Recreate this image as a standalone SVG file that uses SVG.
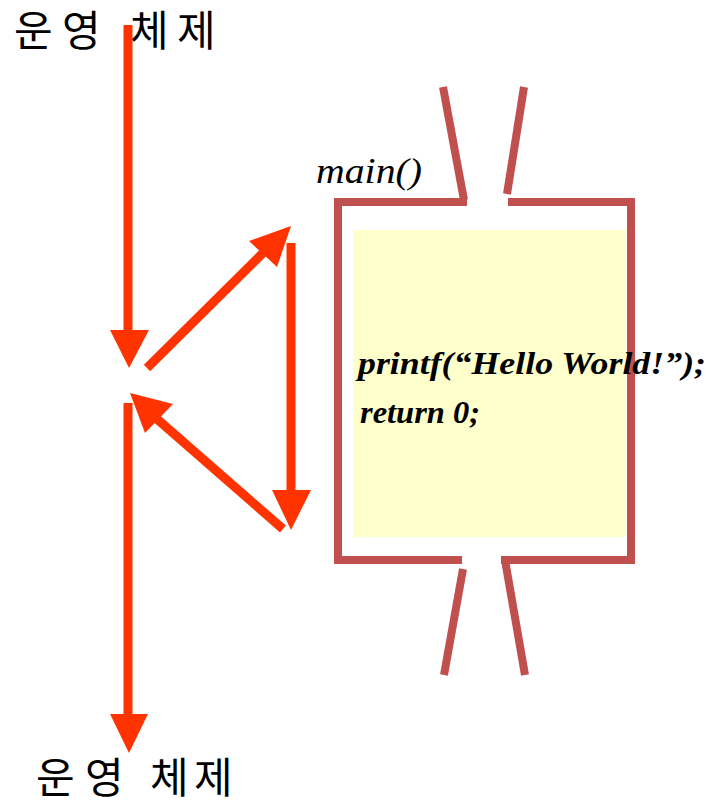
<svg xmlns="http://www.w3.org/2000/svg" width="715" height="800" viewBox="0 0 715 800">
<style>
.ko{font-family:"Noto Sans CJK KR","Noto Sans",sans-serif;font-size:42px;fill:#000}
.flow{stroke:#FF3300;stroke-width:9;fill:none}
.head{fill:#FF3300}
.frame{stroke:#C0504D;stroke-width:8;fill:none}
.code{font-family:"Liberation Serif",serif;font-style:italic;font-weight:bold;font-size:32px;fill:#000}
</style>
<rect width="715" height="800" fill="#fff"/>
<g id="os-top"><text class="ko" x="14 62 110 130 177" y="46">운영 체제</text></g>
<g id="os-bottom"><text class="ko" x="36 85 135 150 194" y="793">운영 체제</text></g>
<g id="main-frame">
<rect x="353" y="230" width="273" height="307" fill="#FFFFCC"/>
<polyline class="frame" points="467,202 338,202 338,560 462,560"/>
<polyline class="frame" points="508,202 631,202 631,560 501,560"/>
<line class="frame" x1="443" y1="87" x2="464" y2="200"/>
<line class="frame" x1="524" y1="87" x2="507" y2="194"/>
<line class="frame" x1="463" y1="569" x2="444" y2="675"/>
<line class="frame" x1="505" y1="560" x2="525" y2="675"/>
<text x="316" y="183" font-family="Liberation Serif, serif" font-style="italic" font-size="36" textLength="106" lengthAdjust="spacingAndGlyphs">main()</text>
<text class="code" x="358" y="374" textLength="348" lengthAdjust="spacingAndGlyphs">printf(“Hello World!”);</text>
<text class="code" x="360" y="423" textLength="120" lengthAdjust="spacingAndGlyphs">return 0;</text>
</g>
<g id="connectors">
<line class="flow" x1="128" y1="25" x2="128" y2="332"/>
<polygon class="head" points="110,330 149,330 129,368"/>
<line class="flow" x1="128" y1="403" x2="128" y2="716"/>
<polygon class="head" points="110,714 148,714 129,753"/>
<line class="flow" x1="147" y1="368" x2="267" y2="249"/>
<polygon class="head" points="291,226 249,241 277,267"/>
<line class="flow" x1="291" y1="243" x2="291" y2="492"/>
<polygon class="head" points="272,490 311,490 291,530"/>
<line class="flow" x1="283" y1="529" x2="157" y2="419"/>
<polygon class="head" points="130,393 173,404 145,433"/>
</g>
</svg>
